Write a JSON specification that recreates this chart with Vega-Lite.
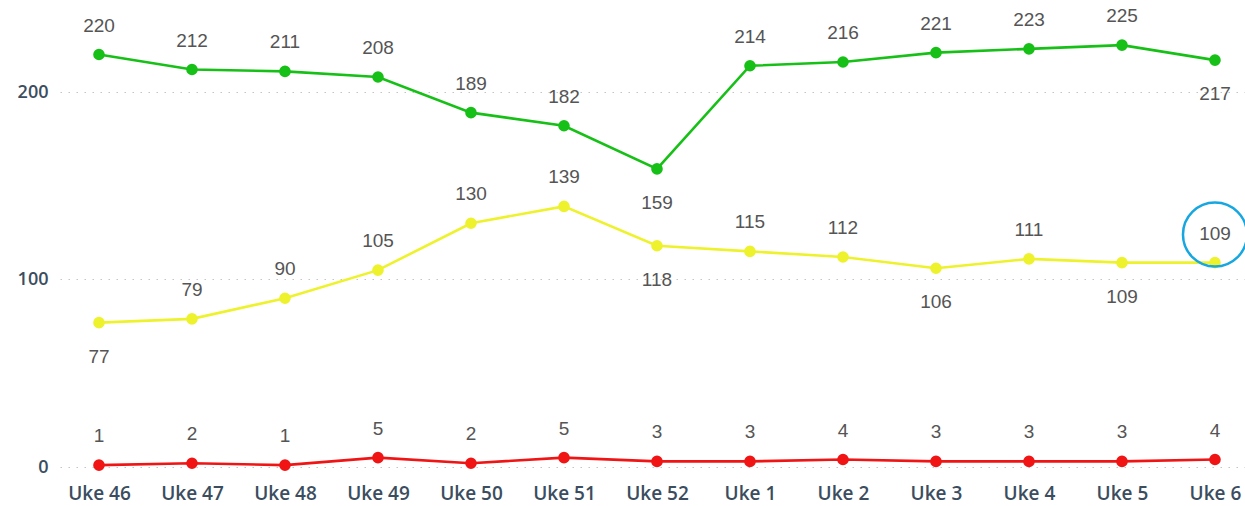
{
  "$schema": "https://vega.github.io/schema/vega-lite/v6.json",
  "width": 1185,
  "height": 450,
  "autosize": "none",
  "padding": {"left": 60, "top": 17, "right": 0, "bottom": 39},
  "background": "white",
  "config": {"view": {"stroke": null}},
  "data": {"values": [
    {"week": "Uke 46", "series": "green", "value": 220},
    {"week": "Uke 47", "series": "green", "value": 212},
    {"week": "Uke 48", "series": "green", "value": 211},
    {"week": "Uke 49", "series": "green", "value": 208},
    {"week": "Uke 50", "series": "green", "value": 189},
    {"week": "Uke 51", "series": "green", "value": 182},
    {"week": "Uke 52", "series": "green", "value": 159},
    {"week": "Uke 1", "series": "green", "value": 214},
    {"week": "Uke 2", "series": "green", "value": 216},
    {"week": "Uke 3", "series": "green", "value": 221},
    {"week": "Uke 4", "series": "green", "value": 223},
    {"week": "Uke 5", "series": "green", "value": 225},
    {"week": "Uke 6", "series": "green", "value": 217},
    {"week": "Uke 46", "series": "yellow", "value": 77},
    {"week": "Uke 47", "series": "yellow", "value": 79},
    {"week": "Uke 48", "series": "yellow", "value": 90},
    {"week": "Uke 49", "series": "yellow", "value": 105},
    {"week": "Uke 50", "series": "yellow", "value": 130},
    {"week": "Uke 51", "series": "yellow", "value": 139},
    {"week": "Uke 52", "series": "yellow", "value": 118},
    {"week": "Uke 1", "series": "yellow", "value": 115},
    {"week": "Uke 2", "series": "yellow", "value": 112},
    {"week": "Uke 3", "series": "yellow", "value": 106},
    {"week": "Uke 4", "series": "yellow", "value": 111},
    {"week": "Uke 5", "series": "yellow", "value": 109},
    {"week": "Uke 6", "series": "yellow", "value": 109},
    {"week": "Uke 46", "series": "red", "value": 1},
    {"week": "Uke 47", "series": "red", "value": 2},
    {"week": "Uke 48", "series": "red", "value": 1},
    {"week": "Uke 49", "series": "red", "value": 5},
    {"week": "Uke 50", "series": "red", "value": 2},
    {"week": "Uke 51", "series": "red", "value": 5},
    {"week": "Uke 52", "series": "red", "value": 3},
    {"week": "Uke 1", "series": "red", "value": 3},
    {"week": "Uke 2", "series": "red", "value": 4},
    {"week": "Uke 3", "series": "red", "value": 3},
    {"week": "Uke 4", "series": "red", "value": 3},
    {"week": "Uke 5", "series": "red", "value": 3},
    {"week": "Uke 6", "series": "red", "value": 4}
  ]},
  "encoding": {
    "x": {
      "field": "week", "type": "ordinal",
      "sort": ["Uke 46","Uke 47","Uke 48","Uke 49","Uke 50","Uke 51","Uke 52","Uke 1","Uke 2","Uke 3","Uke 4","Uke 5","Uke 6"],
      "scale": {"type": "point", "padding": 0.371, "align": 0.565},
      "axis": {"title": null, "domain": false, "ticks": false, "tickSize": 0, "labelPadding": 17, "labelAngle": 0,
               "labelFont": "Open Sans", "labelFontSize": 19, "labelFontWeight": 600, "labelColor": "#3b4d5e", "grid": false}
    },
    "y": {
      "field": "value", "type": "quantitative",
      "scale": {"domain": [0, 240], "nice": false},
      "axis": {"title": null, "values": [0, 100, 200], "domain": false, "ticks": false, "tickSize": 0, "labelPadding": 12,
               "labelFont": "Open Sans", "labelFontSize": 18, "labelFontWeight": 600, "labelColor": "#3b4d5e",
               "grid": true, "gridColor": "#c4c4c4", "gridDash": [1.5, 6.5], "gridWidth": 1}
    },
    "color": {
      "field": "series", "type": "nominal",
      "scale": {"domain": ["green", "yellow", "red"], "range": ["#17c017", "#eef22c", "#f01414"]},
      "legend": null
    }
  },
  "layer": [
    {"mark": {"type": "line", "strokeWidth": 2.6}, "encoding": {"detail": {"field": "series"}}},
    {"mark": {"type": "point", "filled": true, "size": 135, "opacity": 1}},
    {
      "transform": [{"filter": "!((datum.series == 'green' && (datum.week == 'Uke 52' || datum.week == 'Uke 6')) || (datum.series == 'yellow' && (datum.week == 'Uke 46' || datum.week == 'Uke 52' || datum.week == 'Uke 3' || datum.week == 'Uke 5')))"}],
      "mark": {"type": "text", "dy": -29, "baseline": "middle", "font": "Liberation Sans", "fontSize": 19, "color": "#555555"},
      "encoding": {"text": {"field": "value", "type": "quantitative"}, "color": {"value": "#555555"}}
    },
    {
      "transform": [{"filter": "(datum.series == 'green' && (datum.week == 'Uke 52' || datum.week == 'Uke 6')) || (datum.series == 'yellow' && (datum.week == 'Uke 46' || datum.week == 'Uke 52' || datum.week == 'Uke 3' || datum.week == 'Uke 5'))"}],
      "mark": {"type": "text", "dy": 34, "baseline": "middle", "font": "Liberation Sans", "fontSize": 19, "color": "#555555"},
      "encoding": {"text": {"field": "value", "type": "quantitative"}, "color": {"value": "#555555"}}
    },
    {
      "data": {"values": [{"week": "Uke 6", "value": 124}]},
      "mark": {"type": "point", "shape": "circle", "filled": false, "size": 4100, "strokeWidth": 2.5, "color": "#16a6e0", "opacity": 1},
      "encoding": {"color": {"value": "#16a6e0"}}
    }
  ]
}
